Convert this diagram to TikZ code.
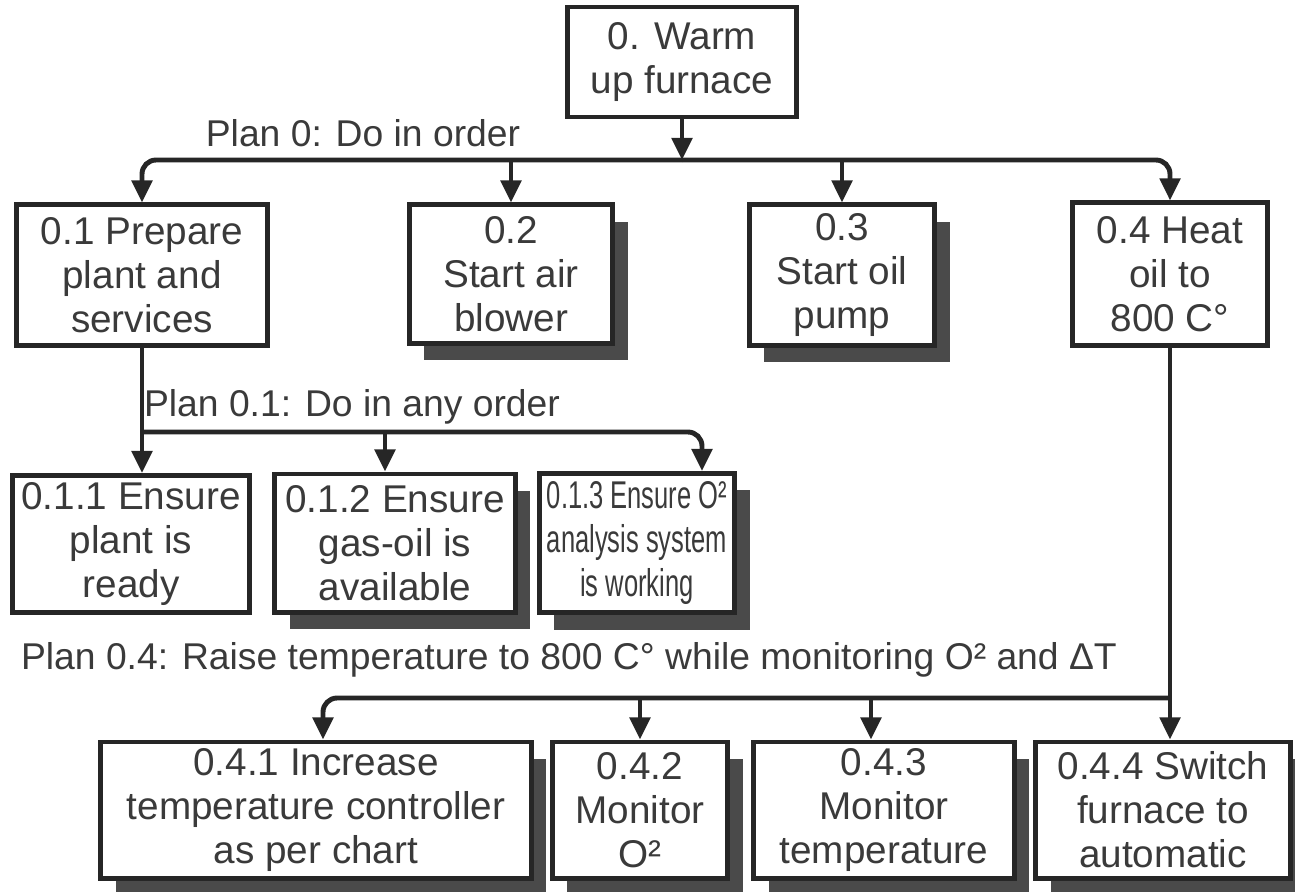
\documentclass[tikz,border=0pt]{standalone}
\usepackage{fontspec}
\setmainfont{Liberation Sans}
\newfontfamily\narrowfont[FakeStretch=0.66]{Liberation Sans}
\usepackage{tikz}
\usetikzlibrary{arrows.meta,positioning,shadows}
\usepackage{xcolor}
\definecolor{inkGray}{HTML}{262626}
\definecolor{textGray}{HTML}{3A3A3A}
\definecolor{shadowGray}{HTML}{4A4A4A}
\tikzset{
    task/.style={
        rectangle,
        draw=inkGray,
        line width=1.4pt,
        fill=white,
        align=center,
        text=textGray,
        inner sep=1pt,
        font=\fontsize{11}{12.5}\selectfont
    },
    shaded/.style={
        drop shadow={shadow xshift=1.5mm,shadow yshift=-1.7mm,
            fill=shadowGray,opacity=1}
    },
    narrow/.style={
        font=\narrowfont\fontsize{11}{12.5}\selectfont
    },
    plan/.style={
        text=textGray,
        inner sep=1pt,
        font=\fontsize{10.6}{12.5}\selectfont
    },
    arrow/.style={-{Triangle[width=2mm,length=2.2mm]},line width=1.4pt,draw=inkGray},
    bus/.style={arrow,rounded corners=4pt}
}

\begin{document}
\begin{tikzpicture}[x=0.01cm,y=-0.01cm]
    \useasboundingbox (0,0) rectangle (1295,891);

    % goal
    \node[task, minimum width=2.29cm, minimum height=1.1cm] (t0) at (682,62)
        {0. Warm\\up furnace};

    % first level
    \node[task, minimum width=2.5cm, minimum height=1.4cm] (p1) at (142,275)
        {0.1 Prepare\\plant and\\services};
    \node[task, shaded, minimum width=2.03cm, minimum height=1.38cm] (p2) at (511,274)
        {0.2\\Start air\\blower};
    \node[task, shaded, minimum width=1.85cm, minimum height=1.4cm] (p3) at (842,275)
        {0.3\\Start oil\\pump};
    \node[task, minimum width=1.95cm, minimum height=1.42cm] (p4) at (1170,274)
        {0.4 Heat\\oil to\\800 C°};

    % under 0.1
    \node[task, minimum width=2.37cm, minimum height=1.37cm] (q1) at (131,544)
        {0.1.1 Ensure\\plant is\\ready};
    \node[task, shaded, minimum width=2.4cm, minimum height=1.38cm] (q2) at (395,543)
        {0.1.2 Ensure\\gas-oil is\\available};
    \node[task, shaded, narrow, minimum width=1.95cm, minimum height=1.39cm] (q3) at (637,543)
        {0.1.3 Ensure O²\\analysis system\\is working};

    % under 0.4
    \node[task, shaded, minimum width=4.3cm, minimum height=1.36cm] (r1) at (316,810)
        {0.4.1 Increase\\temperature controller\\as per chart};
    \node[task, shaded, minimum width=1.75cm, minimum height=1.36cm] (r2) at (640,810)
        {0.4.2\\Monitor\\O²};
    \node[task, shaded, minimum width=2.6cm, minimum height=1.36cm] (r3) at (884,810)
        {0.4.3\\Monitor\\temperature};
    \node[task, shaded, minimum width=2.54cm, minimum height=1.36cm] (r4) at (1163,810)
        {0.4.4 Switch\\furnace to\\automatic};

    % plans
    \node[plan] (plan0) at (363,133) {Plan 0: Do in order};
    \node[plan] (plan1) at (352,407) {Plan 0.1: Do in any order};
    \node[plan] (plan4) at (569,660)
        {Plan 0.4: Raise temperature to 800 C° while monitoring O² and ΔT};

    \coordinate (b0) at (682,160);
    \coordinate (b1) at (142,432);
    \coordinate (b4) at (1170,698);

    \draw[arrow] (t0) -- (b0);
    \draw[bus] (b0) -| (p1);
    \draw[bus] (b0) -| (p4);
    \draw[arrow] (b0 -| p2) -- (p2);
    \draw[arrow] (b0 -| p3) -- (p3);

    \draw[arrow] (p1) -- (p1 |- q1.north);
    \draw[bus] (b1) -| ([xshift=-3.5mm]q3.north east);
    \draw[arrow] ([xshift=-1mm]q2.north |- b1) -- ([xshift=-1mm]q2.north);

    \draw[arrow] (p4) -- (p4 |- r4.north);
    \draw[bus] (b4) -| ([xshift=0.7mm]r1.north);
    \draw[arrow] (b4 -| r2) -- (r2);
    \draw[arrow] ([xshift=-1.3mm]r3.north |- b4) -- ([xshift=-1.3mm]r3.north);
\end{tikzpicture}
\end{document}
